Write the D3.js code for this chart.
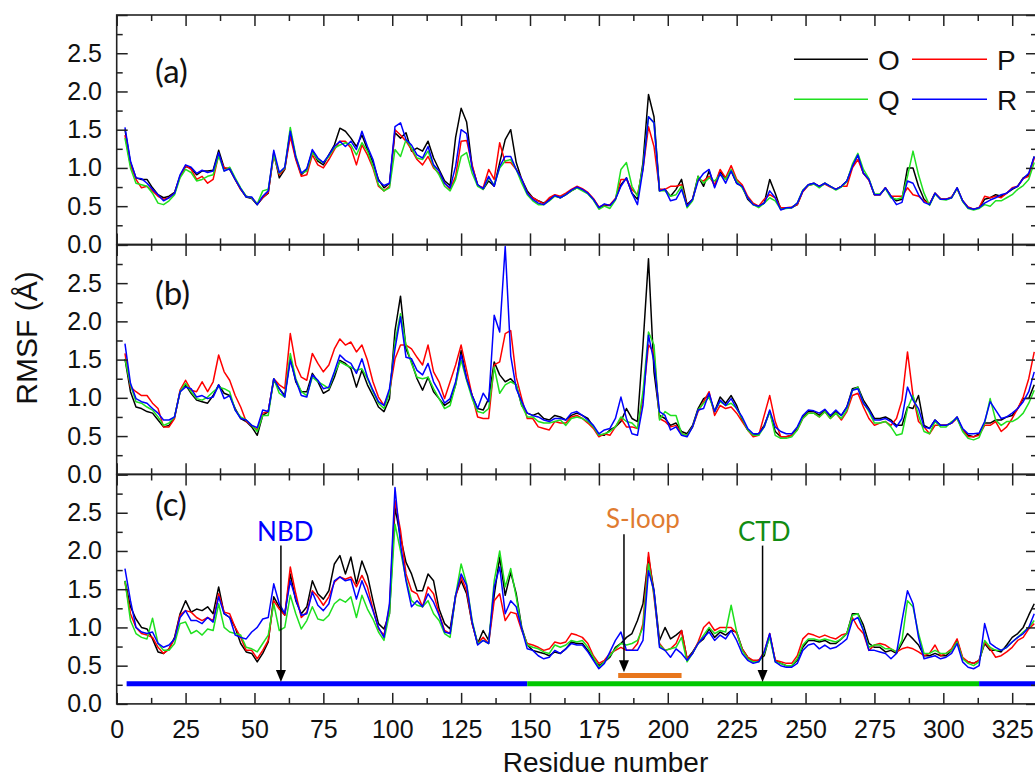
<!DOCTYPE html>
<html><head><meta charset="utf-8">
<script src="https://cdn.jsdelivr.net/npm/d3@7"></script>
<style>body{margin:0;background:#fff}svg{display:block}</style>
</head><body><svg id="chart" width="1035" height="780"></svg>
<script>
// ---------------- DATA ----------------
const residues = [3,5,7,9,11,13,15,17,19,21,23,25,27,29,31,33,35,37,39,41,
43,45,47,49,51,53,55,57,59,61,63,65,67,69,71,73,75,77,79,81,
83,85,87,89,91,93,95,97,99,101,103,105,107,109,111,113,115,117,119,121,
123,125,127,129,131,133,135,137,139,141,143,145,147,149,151,153,155,157,159,161,
163,165,167,169,171,173,175,177,179,181,183,185,187,189,191,193,195,197,199,201,
203,205,207,209,211,213,215,217,219,221,223,225,227,229,231,233,235,237,239,241,
243,245,247,249,251,253,255,257,259,261,263,265,267,269,271,273,275,277,279,281,
283,285,287,289,291,293,295,297,299,301,303,305,307,309,311,313,315,317,319,321,
323,325,327,329,331,333];

const seriesNames = ["O","P","Q","R"];
const panelNames = ["(a)","(b)","(c)"];
const xTicks = [0,25,50,75,100,125,150,175,200,225,250,275,300,325];
const yTicks = [0,0.5,1.0,1.5,2.0,2.5];

// panel (a)
const aO = [1.50,1.07,.87,.85,.85,.74,.65,.61,.63,.68,.89,1.02,1.00,.91,.96,.96,.97,1.23,1.00,.98,
.85,.72,.62,.60,.52,.61,.67,1.20,.87,.98,1.48,1.13,.91,.98,1.22,1.09,1.04,1.17,1.30,1.52,
1.48,1.39,1.28,1.43,1.24,1.07,.85,.74,.80,1.46,1.39,1.46,1.22,1.26,1.22,1.35,1.13,.98,.83,.77,
1.40,1.78,1.60,1.02,.78,.72,.83,.76,1.07,1.37,1.50,1.07,.85,.70,.61,.57,.54,.59,.64,.61,
.65,.70,.74,.72,.67,.59,.48,.51,.51,.59,.78,.87,.67,.59,1.07,1.96,1.67,.70,.72,.63,
.72,.85,.52,.59,.89,.76,.96,.76,.96,.85,.96,.80,.76,.59,.52,.50,.54,.85,.67,.46,
.48,.48,.52,.70,.78,.80,.76,.80,.76,.72,.76,.83,1.02,1.17,.93,.85,.65,.65,.74,.63,
.57,.59,1.00,1.00,.76,.59,.52,.67,.59,.59,.61,.74,.57,.48,.46,.48,.59,.61,.65,.63,
.67,.72,.76,.87,.91,1.15];
const aP = [1.43,1.04,.85,.74,.76,.70,.63,.59,.61,.67,.89,1.03,.98,.85,.89,.80,.85,1.17,1.00,1.00,
.85,.72,.63,.61,.53,.61,.68,1.17,.91,.99,1.41,1.11,.89,.91,1.17,1.04,1.00,1.11,1.24,1.35,
1.35,1.26,1.04,1.30,1.17,1.00,.76,.70,.76,1.50,1.43,1.35,1.24,1.11,1.04,1.15,1.00,.93,.80,.72,
.89,1.35,1.36,1.04,.77,.74,.98,.85,1.33,1.07,1.07,.98,.85,.67,.61,.57,.53,.61,.65,.63,
.67,.72,.76,.73,.68,.60,.49,.52,.52,.60,.85,.85,.72,.65,.98,1.54,1.28,.72,.72,.76,
.76,.78,.50,.59,.85,.83,.89,.78,.98,.87,1.03,.85,.78,.63,.54,.50,.59,.65,.61,.48,
.48,.49,.52,.69,.77,.79,.76,.79,.75,.72,.76,.76,1.00,1.11,.93,.84,.65,.65,.74,.63,
.63,.63,.74,.65,.63,.57,.53,.67,.60,.59,.62,.73,.57,.49,.46,.48,.63,.61,.63,.61,
.67,.74,.76,.86,.89,1.13];
const aQ = [1.39,1.00,.80,.78,.76,.67,.54,.52,.57,.65,.87,.98,.94,.83,.85,.89,.91,1.16,.96,1.01,
.87,.74,.63,.61,.53,.70,.72,1.17,.93,1.00,1.53,1.16,.93,.96,1.20,1.11,1.07,1.15,1.26,1.30,
1.33,1.30,1.17,1.33,1.22,1.02,.78,.70,.74,1.24,1.15,1.37,1.26,1.13,1.11,1.22,1.02,.91,.76,.70,
.85,1.15,1.20,.93,.76,.72,.87,.78,1.00,1.09,1.11,.98,.80,.65,.57,.52,.52,.57,.63,.61,
.65,.70,.74,.70,.66,.58,.46,.50,.47,.58,.98,1.07,.76,.63,1.02,1.67,1.59,.70,.70,.63,
.65,.76,.48,.57,.89,.80,.87,.83,.91,.85,.98,.83,.74,.61,.52,.48,.54,.61,.57,.46,
.47,.48,.54,.71,.77,.79,.74,.80,.76,.71,.75,.82,1.05,1.19,.98,.86,.66,.66,.73,.61,
.59,.61,.89,1.22,.91,.67,.51,.66,.59,.58,.61,.73,.56,.47,.45,.47,.52,.50,.57,.57,
.61,.65,.72,.77,.85,1.07];
const aR = [1.53,1.09,.87,.86,.80,.72,.65,.57,.61,.67,.91,1.04,1.01,.93,.97,.94,.96,1.20,.96,.99,
.85,.73,.62,.62,.52,.63,.70,1.23,.94,1.01,1.48,1.14,.93,.99,1.24,1.13,1.07,1.17,1.28,1.35,
1.28,1.35,1.24,1.48,1.28,1.11,.83,.77,.80,1.54,1.59,1.37,1.30,1.17,1.13,1.28,1.04,.96,.80,.74,
1.02,1.50,1.45,1.00,.78,.73,.89,.76,1.02,1.15,1.15,.98,.85,.67,.59,.54,.52,.58,.64,.61,
.65,.71,.75,.72,.67,.59,.48,.53,.51,.59,.76,.87,.67,.52,.98,1.67,1.59,.70,.72,.57,
.59,.72,.50,.59,.83,.93,.98,.74,.93,.80,.96,.80,.76,.61,.52,.50,.54,.70,.61,.45,
.48,.48,.54,.70,.78,.80,.76,.80,.76,.72,.76,.83,1.02,1.17,.93,.85,.65,.65,.74,.63,
.52,.55,.83,.80,.65,.55,.52,.67,.59,.59,.61,.74,.57,.48,.46,.48,.54,.58,.61,.65,
.67,.73,.76,.86,.93,1.15];

// panel (b)
const bO = [1.51,1.08,.88,.86,.82,.80,.71,.62,.64,.75,1.08,1.17,1.06,.97,.95,.93,1.03,1.17,1.06,1.03,
.86,.73,.69,.62,.51,.77,.82,1.23,1.12,1.03,1.53,1.21,1.08,1.08,1.32,1.21,1.06,1.10,1.27,1.49,
1.45,1.38,1.14,1.36,1.17,1.03,.88,.82,.99,1.88,2.33,1.64,1.47,1.25,1.10,1.27,1.08,.99,.90,.95,
1.17,1.62,1.25,1.03,.86,.84,.99,1.47,1.30,1.21,1.25,1.17,.90,.80,.77,.80,.73,.71,.77,.75,
.71,.77,.80,.77,.73,.62,.51,.51,.58,.62,.69,.86,.73,.69,1.69,2.82,1.34,.77,.73,.64,
.67,.56,.53,.64,.86,.99,1.03,.82,1.01,.93,1.03,.90,.71,.58,.51,.53,.64,.82,.56,.49,
.49,.51,.60,.75,.82,.82,.77,.84,.75,.82,.77,.88,1.12,1.14,.97,.86,.73,.73,.75,.71,
.64,.64,.88,.86,1.03,.64,.60,.71,.64,.64,.67,.75,.58,.51,.49,.53,.67,.67,.71,.71,
.75,.77,.86,.99,.99,1.17];
const bP = [1.58,1.14,1.08,1.03,1.03,.93,.86,.62,.62,.73,1.10,1.23,1.10,1.08,1.21,1.08,1.21,1.56,1.34,1.23,
1.03,.88,.69,.64,.58,.80,.82,1.25,1.17,1.12,1.84,1.43,1.27,1.23,1.58,1.45,1.34,1.43,1.64,1.77,
1.69,1.73,1.60,1.69,1.49,1.21,1.01,.90,1.08,1.51,1.69,1.69,1.64,1.53,1.43,1.69,1.34,1.21,.99,1.21,
1.43,1.69,1.36,1.03,.75,.73,.73,1.43,1.47,1.84,1.88,1.27,.99,.73,.73,.62,.60,.58,.69,.67,
.67,.75,.77,.73,.67,.60,.49,.53,.51,.62,.73,.62,.62,.60,.99,1.69,1.60,.73,.69,.62,
.64,.53,.51,.62,.82,.95,1.08,.77,.90,.86,.88,.80,.69,.58,.49,.51,.77,1.03,.69,.49,
.49,.51,.58,.73,.80,.80,.75,.82,.73,.80,.71,.82,1.03,1.06,.88,.73,.64,.67,.69,.64,
.73,.97,1.60,1.03,.69,.62,.53,.64,.64,.64,.67,.73,.58,.49,.49,.51,.64,.64,.69,.56,
.62,.73,.86,1.01,1.25,1.60];
const bQ = [1.51,1.17,.95,.93,.88,.84,.75,.64,.67,.75,1.08,1.19,1.08,.99,.97,1.01,1.08,1.14,1.12,1.08,
.84,.75,.71,.64,.56,.77,.77,1.25,1.06,1.01,1.58,1.25,1.08,1.03,1.27,1.21,1.17,1.12,1.32,1.47,
1.43,1.40,1.36,1.38,1.25,1.08,.93,.86,1.06,1.73,2.10,1.69,1.45,1.27,1.25,1.27,1.12,.99,.86,.90,
1.17,1.49,1.23,.99,.82,.80,.86,1.40,1.06,1.17,1.21,1.17,.90,.75,.75,.69,.67,.67,.69,.71,
.64,.73,.75,.73,.69,.62,.51,.53,.56,.62,.75,.69,.67,.60,1.08,1.86,1.69,.71,.82,.77,
.77,.53,.51,.62,.84,.93,1.01,.82,.95,.90,.93,.86,.73,.58,.51,.51,.62,.82,.51,.47,
.47,.49,.58,.73,.80,.80,.75,.82,.73,.80,.73,.84,1.10,1.14,.93,.82,.67,.67,.69,.62,
.51,.53,.86,1.03,.77,.56,.53,.69,.62,.62,.69,.73,.56,.47,.45,.48,.67,.99,.71,.64,
.69,.69,.73,.80,.93,1.10];
const bR = [1.71,1.19,.99,.95,.93,.86,.80,.71,.71,.75,1.08,1.14,1.12,1.01,1.03,.99,1.01,1.17,.99,1.03,
.84,.73,.71,.64,.61,.84,.82,1.25,1.12,1.01,1.49,1.23,1.03,1.01,1.30,1.23,1.12,1.14,1.34,1.56,
1.49,1.45,1.32,1.51,1.27,1.10,.95,.90,1.12,1.64,2.06,1.53,1.51,1.36,1.30,1.45,1.21,1.08,.93,.99,
1.21,1.56,1.25,1.03,.86,1.06,.95,2.08,1.86,2.98,1.55,1.12,.95,.80,.77,.75,.71,.69,.73,.73,
.71,.80,.82,.77,.71,.64,.53,.58,.60,.73,1.01,.73,.53,.51,.90,1.82,1.47,.82,.77,.58,
.62,.51,.49,.62,.84,.86,1.06,.82,.97,.90,.99,.86,.75,.60,.53,.53,.62,.84,.62,.56,
.53,.53,.62,.77,.84,.83,.80,.85,.77,.84,.77,.88,1.10,1.12,.93,.84,.71,.71,.73,.69,
.62,.73,1.14,.97,.86,.62,.60,.71,.64,.64,.67,.75,.60,.53,.53,.54,.69,.95,.84,.73,
.75,.80,.86,.95,1.08,1.34];

// panel (c)
const cO = [1.61,1.27,1.11,1.00,.98,.85,.68,.66,.72,.87,1.18,1.35,1.20,1.24,1.22,1.27,1.18,1.53,1.18,1.13,
1.00,.79,.68,.66,.55,.66,.81,1.40,1.27,1.16,1.70,1.35,1.18,1.27,1.61,1.44,1.37,1.48,1.83,1.94,
1.70,1.92,1.57,1.87,1.68,1.35,1.05,.98,1.18,2.57,2.18,1.85,1.70,1.48,1.48,1.70,1.61,1.24,1.05,.98,
1.42,1.61,1.44,1.05,.79,.96,.83,1.42,1.92,1.42,1.72,1.44,1.00,.77,.70,.68,.66,.63,.68,.66,
.72,.81,.79,.79,.70,.59,.50,.55,.61,.74,.79,.87,.92,1.09,1.31,1.92,1.48,.83,1.00,.85,
.90,.96,.59,.68,.79,.85,.98,.87,.94,.90,.96,.94,.72,.61,.55,.57,.63,.90,.57,.53,
.50,.50,.57,.74,.83,.83,.81,.83,.79,.79,.85,.92,1.18,1.18,1.03,.79,.74,.74,.68,.70,
.66,.79,.92,.85,.77,.63,.63,.66,.63,.63,.70,.83,.59,.55,.53,.57,.79,.70,.70,.68,
.77,.87,.92,1.00,1.16,1.31];
const cP = [1.59,1.18,1.00,.92,.90,.87,.74,.66,.72,.85,1.16,1.22,1.20,1.13,1.09,1.13,1.09,1.44,1.20,1.18,
1.00,.87,.70,.70,.59,.70,.83,1.35,1.24,1.16,1.79,1.44,1.13,1.20,1.48,1.40,1.29,1.40,1.59,1.66,
1.63,1.66,1.53,1.68,1.53,1.24,.98,.90,1.27,2.66,2.27,1.70,1.48,1.44,1.27,1.53,1.44,1.18,.96,.92,
1.40,1.66,1.48,1.05,.79,.87,.79,1.35,1.44,1.09,1.20,1.18,.96,.79,.77,.74,.70,.72,.81,.79,
.81,.92,.90,.87,.79,.63,.53,.57,.66,.70,.74,.70,.70,.79,1.05,1.98,1.40,.79,.70,.72,
.79,.96,.59,.66,.81,1.00,1.07,.96,1.00,1.00,1.00,.92,.72,.61,.57,.57,.68,.92,.57,.55,
.53,.53,.63,.85,.92,.90,.87,.90,.87,.85,.90,.92,1.13,1.00,.92,.70,.77,.79,.77,.72,
.68,.72,.74,.72,.68,.63,.66,.77,.63,.66,.72,.85,.61,.55,.53,.57,.81,.72,.61,.63,
.68,.74,.83,.87,.98,1.05];
const cQ = [1.61,1.09,.92,.87,.85,1.12,.79,.70,.70,.79,1.05,1.07,.92,.96,.90,.98,.96,1.31,1.00,.94,
.92,.90,.74,.72,.68,.79,.90,1.31,.96,1.00,1.42,1.18,.98,1.09,1.27,1.11,1.09,1.16,1.31,1.37,
1.33,1.40,1.13,1.42,1.24,1.11,.94,.83,1.18,2.35,2.00,1.63,1.35,1.29,1.27,1.35,1.18,1.09,.92,.87,
1.42,1.83,1.57,1.09,.79,.83,.79,1.61,2.00,1.53,1.77,1.40,.98,.77,.74,.72,.68,.66,.77,.74,
.77,.83,.81,.83,.74,.61,.48,.55,.63,.72,.79,.77,.79,.83,1.00,1.83,1.44,.77,.70,.72,
.74,.87,.55,.66,.79,.90,1.00,.92,.96,.94,1.29,.94,.70,.59,.55,.55,.66,.87,.55,.53,
.50,.50,.59,.77,.85,.85,.83,.85,.83,.81,.85,.92,1.16,1.18,.96,.74,.77,.77,.72,.72,
.68,.83,1.35,1.27,.92,.66,.66,.70,.66,.66,.70,.81,.59,.53,.50,.55,.83,.74,.70,.70,
.74,.81,.87,.94,1.00,1.09];
const cR = [1.77,1.35,1.00,.94,.92,.94,.79,.74,.77,.85,1.13,1.22,1.09,1.09,1.05,1.13,1.07,1.40,1.18,1.13,
.90,.87,.85,.94,1.00,1.11,1.13,1.57,1.31,1.18,1.61,1.37,1.16,1.18,1.46,1.29,1.22,1.31,1.61,1.66,
1.61,1.63,1.37,1.61,1.42,1.22,1.00,.87,1.31,2.83,2.09,1.61,1.27,1.35,1.27,1.44,1.33,1.16,.94,.92,
1.42,1.70,1.55,1.07,.77,.83,.79,1.53,1.79,1.18,1.35,1.27,.98,.72,.70,.63,.59,.61,.70,.66,
.72,.79,.77,.77,.68,.57,.46,.53,.68,.83,.94,.70,.70,.70,.83,1.74,1.48,.74,.70,.61,
.72,.66,.57,.66,.79,.87,.94,.83,.90,.85,.96,.83,.66,.57,.53,.55,.68,.92,.55,.50,
.48,.48,.53,.70,.77,.79,.72,.77,.72,.74,.79,.85,1.09,1.13,.96,.70,.70,.68,.66,.59,
.66,1.09,1.48,1.31,.87,.59,.61,.63,.59,.61,.66,.79,.55,.48,.46,.50,1.05,.79,.74,.70,
.74,.81,.87,.92,1.00,1.18];

// annotations in panel (c) (residue / RMSF units)
const domainNames = ["NBD","CTD","NBD"];
const domainStart = [3.6, 149, 313];
const domainEnd = [149, 313, 340];
const domainLevel = 0.265;
const sloopRange = [182, 205];
const sloopLevel = 0.37;
const annotLabels = ["NBD","S-loop","CTD"];
const annotResidue = [59.6, 184.1, 234.4];
const annotLabelResidue = [61.2, 191.0, 235.0];
const annotLabelValue = [2.13, 2.30, 2.13];
const arrowFrom = [2.07, 2.22, 2.07];
const arrowTo = [0.285, 0.415, 0.285];

// ---------------- STYLE / LAYOUT ----------------
const seriesColors = ["#000000","#ff0000","#1fe01f","#0000ff"];
const domainColors = {NBD:"#0000ff", CTD:"#00c800"};
const annotColors = ["#0000ff","#e07b30","#128c12"];
const sloopColor = "#e8761c";
const panels = [[aO,aP,aQ,aR],[bO,bP,bQ,bR],[cO,cP,cQ,cR]];

const svg = d3.select("#chart");
const plotLeft = 116.7, plotRight = 1037;
const panelTop = [15, 244.9, 474.5];
const panelH = 229.4;
const axisFont = "'Liberation Sans', Arial, sans-serif";
const labelFont = "Lato, 'Open Sans', sans-serif";
const frameColor = "#222";

const x = d3.scaleLinear().domain([0,334]).range([plotLeft, plotRight]);
const minorX = d3.range(12.5, 334, 25);
const minorY = [0.25,0.75,1.25,1.75,2.25,2.75];

panels.forEach((series, p) => {
  const top = panelTop[p], bottom = top + panelH;
  const y = d3.scaleLinear().domain([0,3]).range([bottom, top]);
  const g = svg.append("g");

  const clipId = "clip" + p;
  svg.append("clipPath").attr("id", clipId).append("rect")
    .attr("x", plotLeft).attr("y", top).attr("width", plotRight-plotLeft).attr("height", panelH);

  // series lines
  const line = d3.line().x(d => x(d[0])).y(d => y(d[1])).curve(d3.curveLinear);
  const lg = g.append("g").attr("clip-path", `url(#${clipId})`);
  series.forEach((vals, s) => {
    const pts = vals.map((v,i) => [residues[i], v]).filter(d => d[0] !== undefined);
    lg.append("path").datum(pts).attr("d", line)
      .attr("fill","none").attr("stroke", seriesColors[s])
      .attr("stroke-width", 1.5).attr("stroke-linejoin","round");
  });

  // annotations (panel c)
  if (p === 2) {
    const ag = g.append("g").attr("clip-path", `url(#${clipId})`);
    domainNames.forEach((n,i) => {
      ag.append("line").attr("x1", x(domainStart[i])).attr("x2", x(domainEnd[i]))
        .attr("y1", y(domainLevel)).attr("y2", y(domainLevel))
        .attr("stroke", domainColors[n]).attr("stroke-width", 5);
    });
    ag.append("line").attr("x1", x(sloopRange[0])).attr("x2", x(sloopRange[1]))
      .attr("y1", y(sloopLevel)).attr("y2", y(sloopLevel))
      .attr("stroke", sloopColor).attr("stroke-width", 5);
    annotLabels.forEach((t,i) => {
      const ax = x(annotResidue[i]);
      ag.append("line").attr("x1", ax).attr("x2", ax)
        .attr("y1", y(arrowFrom[i])).attr("y2", y(arrowTo[i]) - 10)
        .attr("stroke","#000").attr("stroke-width",1.5);
      const ty = y(arrowTo[i]);
      ag.append("path").attr("d", `M${ax},${ty} L${ax-5},${ty-12} L${ax+5},${ty-12} Z`).attr("fill","#000");
      ag.append("text").attr("x", x(annotLabelResidue[i])).attr("y", y(annotLabelValue[i]))
        .attr("text-anchor","middle").attr("font-family", labelFont).attr("font-size", 26)
        .attr("fill", annotColors[i]).text(t);
    });
  }

  // axes (inward ticks)
  const tl = 11, ts = 6;
  const bottomAx = d3.axisBottom(x).tickValues(xTicks).tickSizeInner(-tl).tickSizeOuter(0)
    .tickPadding(16.5).tickFormat(p === 2 ? d3.format("d") : () => "");
  g.append("g").attr("transform", `translate(0,${bottom})`).call(bottomAx);
  g.append("g").attr("transform", `translate(0,${top})`)
    .call(d3.axisTop(x).tickValues(xTicks).tickSizeInner(-tl).tickSizeOuter(0).tickFormat(() => ""));
  g.append("g").attr("transform", `translate(0,${bottom})`)
    .call(d3.axisBottom(x).tickValues(minorX).tickSizeInner(-ts).tickSizeOuter(0).tickFormat(() => ""));
  g.append("g").attr("transform", `translate(0,${top})`)
    .call(d3.axisTop(x).tickValues(minorX).tickSizeInner(-ts).tickSizeOuter(0).tickFormat(() => ""));
  g.append("g").attr("transform", `translate(${plotLeft},0)`)
    .call(d3.axisLeft(y).tickValues(yTicks.concat([3])).tickSizeInner(-tl).tickSizeOuter(0)
      .tickPadding(14.7).tickFormat(v => v < 2.9 ? d3.format(".1f")(v) : ""));
  g.append("g").attr("transform", `translate(${plotLeft},0)`)
    .call(d3.axisLeft(y).tickValues(minorY).tickSizeInner(-ts).tickSizeOuter(0).tickFormat(() => ""));
  g.append("g").attr("transform", `translate(${plotRight},0)`)
    .call(d3.axisRight(y).tickValues(yTicks.concat([3])).tickSizeInner(-tl).tickSizeOuter(0).tickFormat(() => ""));
  g.append("g").attr("transform", `translate(${plotRight},0)`)
    .call(d3.axisRight(y).tickValues(minorY).tickSizeInner(-ts).tickSizeOuter(0).tickFormat(() => ""));

  g.selectAll(".domain").remove();
  g.selectAll(".tick line").attr("stroke", frameColor).attr("stroke-width", 1.5);
  g.selectAll(".tick text").attr("font-family", axisFont).attr("font-size", 25).attr("fill", "#111");

  // frame
  g.append("rect").attr("x", plotLeft).attr("y", top).attr("width", plotRight-plotLeft).attr("height", panelH)
    .attr("fill","none").attr("stroke", frameColor).attr("stroke-width", 1.6);

  // panel label
  g.append("text").attr("x", 155).attr("y", [83, 305, 516][p])
    .attr("font-family", labelFont).attr("font-size", 33).attr("fill","#111").text(panelNames[p]);
});

// legend
const legRows = [[0,1],[2,3]];
const legY = [59.3, 99.3];
const legLineX = [[794,868],[912,987]];
const legTextX = [878, 997];
legRows.forEach((row, r) => {
  row.forEach((s, c) => {
    svg.append("line").attr("x1", legLineX[c][0]).attr("x2", legLineX[c][1])
      .attr("y1", legY[r]).attr("y2", legY[r]).attr("stroke", seriesColors[s]).attr("stroke-width", 1.5);
    svg.append("text").attr("x", legTextX[c]).attr("y", legY[r] + 10.5)
      .attr("font-family", axisFont).attr("font-size", 28).attr("fill","#111").text(seriesNames[s]);
  });
});

// axis titles
svg.append("text").attr("x", 605.5).attr("y", 772).attr("text-anchor","middle")
  .attr("font-family", axisFont).attr("font-size", 28).attr("fill","#111").text("Residue number");
svg.append("text").attr("transform","translate(37,338) rotate(-90)").attr("text-anchor","middle")
  .attr("font-family", axisFont).attr("font-size", 30).attr("fill","#111").text("RMSF (Å)");
</script>
</body></html>
